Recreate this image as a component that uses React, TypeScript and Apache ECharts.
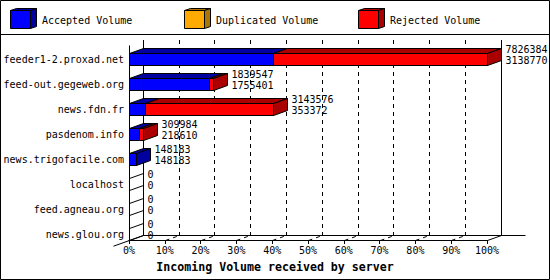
import { useEffect, useRef } from "react";
import * as echarts from "echarts";

const servers = [
  "feeder1-2.proxad.net",
  "feed-out.gegeweb.org",
  "news.fdn.fr",
  "pasdenom.info",
  "news.trigofacile.com",
  "localhost",
  "feed.agneau.org",
  "news.glou.org",
];
const totalVolume = [7826384, 1839547, 3143576, 309984, 148183, 0, 0, 0];
const acceptedVolume = [3138770, 1755401, 353372, 218610, 148183, 0, 0, 0];
const duplicatedVolume = [0, 0, 0, 0, 0, 0, 0, 0];
const volumeNames = ["Accepted Volume", "Duplicated Volume", "Rejected Volume"];
const percentTicks = [0, 10, 20, 30, 40, 50, 60, 70, 80, 90, 100];
const axisTitle = "Incoming Volume received by server";

const frontColors = ["#0000ff", "#ffaa00", "#ff0000"];
const darkColors = ["#0000a0", "#aa7700", "#aa0000"];

const FONT = '"DejaVu Sans Mono", monospace';
const DX = 14;
const DY = 5;
const HALF = 6;
const s = (v: number) => Math.round(v) + 0.5;

export default function App() {
  const ref = useRef<HTMLDivElement>(null);

  useEffect(() => {
    const chart = echarts.init(ref.current!, null, { renderer: "svg" });
    const maxTotal = Math.max(...totalVolume);
    const step = maxTotal / 10;
    const rejectedVolume = totalVolume.map(
      (t, i) => t - acceptedVolume[i] - duplicatedVolume[i]
    );
    const barData = servers.map((_, i) => [
      totalVolume[i],
      i,
      acceptedVolume[i],
      duplicatedVolume[i],
      rejectedVolume[i],
    ]);
    const tickData = percentTicks.map((p) => [(p / 100) * maxTotal, 0]);
    const textStyle = (text: string, size = 10, weight = "normal") => ({
      text,
      fill: "#000",
      font: `${weight} ${size}px ${FONT}`,
      textAlign: "left",
      textVerticalAlign: "middle",
      align: "left",
      verticalAlign: "middle",
    });
    const black = { stroke: "#000", lineWidth: 1 };

    const legendGraphics = volumeNames.map((name, k) => {
      const x = 10 + 174 * k;
      return {
        type: "group",
        children: [
          {
            type: "polygon",
            shape: {
              points: [
                [x + 0.5, 10.5],
                [x + 20.5, 10.5],
                [x + 26.5, 8.5],
                [x + 6.5, 8.5],
              ],
            },
            style: { fill: darkColors[k], ...black },
          },
          {
            type: "polygon",
            shape: {
              points: [
                [x + 20.5, 10.5],
                [x + 26.5, 8.5],
                [x + 26.5, 26.5],
                [x + 20.5, 28.5],
              ],
            },
            style: { fill: darkColors[k], ...black },
          },
          {
            type: "rect",
            shape: { x: x + 0.5, y: 10.5, width: 20, height: 18 },
            style: { fill: frontColors[k], ...black },
          },
          {
            type: "text",
            x: x + 32,
            y: 20,
            style: textStyle(name),
          },
        ],
      };
    });

    chart.setOption({
      animation: false,
      backgroundColor: "#fff",
      title: {
        text: axisTitle,
        left: "center",
        top: 261,
        padding: 0,
        textStyle: {
          fontFamily: FONT,
          fontWeight: "bold",
          fontSize: 11.6,
          color: "#000",
        },
      },
      graphic: [
        {
          type: "rect",
          shape: { x: 0.5, y: 0.5, width: 549, height: 279 },
          style: { fill: "none", ...black },
          z: 100,
        },
        {
          type: "line",
          shape: { x1: 0, y1: 34.5, x2: 550, y2: 34.5 },
          style: black,
          z: 100,
        },
        ...legendGraphics,
      ],
      grid: [
        { left: 129, width: 358, top: 46.5, height: 200 },
        { left: 143, width: 358, top: 40, height: 195 },
        { left: 129, width: 358, top: 45, height: 195 },
      ],
      xAxis: [
        { gridIndex: 0, type: "value", min: 0, max: maxTotal, interval: step, show: false },
        {
          gridIndex: 1,
          type: "value",
          min: 0,
          max: maxTotal,
          interval: step,
          axisLine: { show: false },
          axisTick: { show: false },
          axisLabel: { show: false },
          splitLine: {
            show: true,
            lineStyle: { color: "#000", width: 1, type: [4, 4] },
          },
        },
        {
          gridIndex: 2,
          type: "value",
          min: 0,
          max: maxTotal,
          interval: step,
          position: "bottom",
          axisLine: { show: true, lineStyle: { color: "#000", width: 1 } },
          axisTick: { show: true, length: 4, lineStyle: { color: "#000", width: 1 } },
          axisLabel: {
            show: true,
            margin: 5,
            color: "#000",
            fontFamily: FONT,
            fontSize: 10,
            formatter: (v: number) =>
              percentTicks[Math.round(v / step)] + "%",
          },
          splitLine: { show: false },
        },
      ],
      yAxis: [
        {
          gridIndex: 0,
          type: "category",
          inverse: true,
          data: servers,
          axisLine: { show: false },
          axisTick: { show: false },
          axisLabel: {
            margin: 5,
            color: "#000",
            fontFamily: FONT,
            fontSize: 10,
          },
        },
        { gridIndex: 1, type: "value", min: 0, max: 1, show: false },
        { gridIndex: 2, type: "value", min: 0, max: 1, show: false },
      ],
      series: [
        {
          type: "custom",
          name: "frame",
          xAxisIndex: 2,
          yAxisIndex: 2,
          clip: false,
          silent: true,
          data: tickData,
          renderItem: (params: any, api: any) => {
            const p = percentTicks[params.dataIndex];
            const pt = api.coord([api.value(0), 0]);
            const yTop = s(api.coord([api.value(0), 1])[1]);
            const fx = s(pt[0]);
            const fy = s(pt[1]);
            const by = fy - DY;
            const line = (x1: number, y1: number, x2: number, y2: number, dash?: number[]) => ({
              type: "line",
              shape: { x1, y1, x2, y2 },
              style: dash ? { ...black, lineDash: dash } : black,
            });
            const children: any[] = [];
            if (p > 0 && p < 100) children.push(line(fx, fy, fx + DX, by, [4, 4]));
            if (p === 0) {
              const xFar = s(api.coord([maxTotal, 0])[0]) + DX + 24;
              children.push(line(fx - 16, fy + 5.7, fx + DX, by));
              children.push(line(fx, yTop, fx, fy));
              children.push(line(fx + DX, yTop - DY, fx + DX, by));
              children.push(line(fx + DX, by, xFar, by));
            }
            if (p === 100) {
              children.push(line(fx, fy, fx + DX, by));
              children.push(line(fx + DX, yTop - DY, fx + DX, by));
            }
            return { type: "group", children };
          },
        },
        {
          type: "custom",
          name: "volume",
          xAxisIndex: 0,
          yAxisIndex: 0,
          clip: false,
          silent: true,
          encode: { x: 0, y: 1 },
          data: barData,
          renderItem: (params: any, api: any) => {
            const i = params.dataIndex;
            const segs = [api.value(2), api.value(3), api.value(4)];
            const base = api.coord([0, i]);
            const c = base[1];
            const top = s(c - HALF);
            const bot = s(c + HALF);
            const children: any[] = [];
            let acc = 0;
            let xEnd = s(base[0]);
            let lastK = -1;
            segs.forEach((v: number, k: number) => {
              if (!(v > 0)) return;
              const xa = s(api.coord([acc, i])[0]);
              acc += v;
              const xb = s(api.coord([acc, i])[0]);
              children.push({
                type: "polygon",
                shape: {
                  points: [
                    [xa, top],
                    [xb, top],
                    [xb + DX, top - DY],
                    [xa + DX, top - DY],
                  ],
                },
                style: { fill: darkColors[k], ...black },
              });
              children.push({
                type: "rect",
                shape: { x: xa, y: top, width: xb - xa, height: bot - top },
                style: { fill: frontColors[k], ...black },
              });
              xEnd = xb;
              lastK = k;
            });
            children.push({
              type: "polygon",
              shape: {
                points: [
                  [xEnd, top],
                  [xEnd + DX, top - DY],
                  [xEnd + DX, bot - DY],
                  [xEnd, bot],
                ],
              },
              style: { fill: lastK >= 0 ? darkColors[lastK] : "none", ...black },
            });
            const tx = xEnd + DX + 4;
            children.push({ type: "text", x: tx, y: c - 9.5, style: textStyle(String(api.value(0))) });
            children.push({ type: "text", x: tx, y: c + 1.5, style: textStyle(String(api.value(2))) });
            return { type: "group", children };
          },
        },
      ],
    });
    return () => chart.dispose();
  }, []);

  return (
    <div
      ref={ref}
      style={{ position: "fixed", left: 0, top: 0, width: 550, height: 280, background: "#fff" }}
    />
  );
}
